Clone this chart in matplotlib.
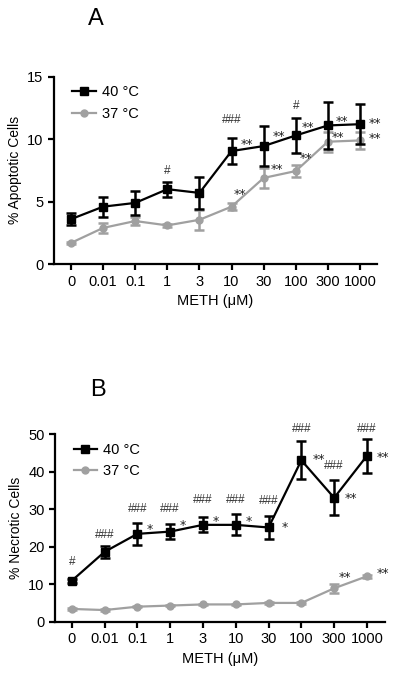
"""Recreate the METH apoptosis / necrosis two-panel figure."""
import matplotlib
matplotlib.use("Agg")
import matplotlib.pyplot as plt
from matplotlib.lines import Line2D

plt.rcParams["font.family"] = ["Liberation Sans", "DejaVu Sans"]

doses = ["0", "0.01", "0.1", "1", "3", "10", "30", "100", "300", "1000"]

# panel A: % apoptotic cells
apo_40 = [3.6, 4.6, 4.9, 6.0, 5.7, 9.05, 9.45, 10.3, 11.1, 11.2]
apo_40_err = [0.5, 0.8, 0.95, 0.6, 1.25, 1.05, 1.6, 1.4, 1.9, 1.6]
apo_37 = [1.7, 2.9, 3.45, 3.1, 3.55, 4.6, 6.9, 7.45, 9.8, 9.9]
apo_37_err = [0.1, 0.4, 0.35, 0.1, 0.8, 0.3, 0.8, 0.5, 0.8, 0.65]

# (x position, y value, text)
apo_marks = [
    (3, 7.45, "#"), (5, 11.5, "###"), (7, 12.65, "#"),
    (5.47, 9.6, "**"), (6.46, 10.2, "**"), (7.39, 10.95, "**"),
    (8.43, 11.45, "**"), (9.47, 11.25, "**"),
    (5.26, 5.6, "**"), (6.41, 7.6, "**"), (7.32, 8.45, "**"),
    (8.3, 10.15, "**"), (9.47, 10.05, "**"),
]

# panel B: % necrotic cells
nec_40 = [10.9, 18.6, 23.4, 24.0, 25.8, 25.8, 25.1, 43.0, 33.0, 44.2]
nec_40_err = [0.5, 1.6, 3.0, 2.0, 2.0, 2.8, 3.0, 5.1, 4.7, 4.5]
nec_37 = [3.4, 3.1, 4.0, 4.3, 4.6, 4.6, 5.0, 5.0, 8.9, 12.1]
nec_37_err = [0.2, 0.2, 0.2, 0.2, 0.2, 0.2, 0.2, 0.2, 1.2, 0.4]

nec_marks = [
    (0, 15.8, "#"), (1, 23.2, "###"), (2, 30.1, "###"),
    (3, 30.1, "###"), (4, 32.3, "###"), (5, 32.3, "###"),
    (6, 32.1, "###"), (7, 51.4, "###"), (8, 41.6, "###"),
    (9, 51.4, "###"),
    (2.39, 24.6, "*"), (3.39, 25.7, "*"), (4.4, 26.7, "*"),
    (5.39, 26.7, "*"), (6.5, 25.0, "*"),
    (7.53, 43.3, "**"), (8.5, 32.7, "**"), (9.49, 43.8, "**"),
    (8.34, 11.8, "**"), (9.49, 12.9, "**"),
]

GRAY = "#a0a0a0"


def draw_panel(ax, v40, e40, v37, e37, marks, ylabel, ymax, ystep, letter, letter_y):
    x = list(range(len(doses)))
    ax.errorbar(x, v37, yerr=e37, color=GRAY, marker="o", markersize=5,
                linewidth=1.6, elinewidth=1.8, capsize=3.5, capthick=1.8, zorder=2)
    ax.errorbar(x, v40, yerr=e40, color="black", marker="s", markersize=6,
                linewidth=1.6, elinewidth=1.8, capsize=3.5, capthick=1.8, zorder=3)
    for xm, ym, txt in marks:
        if txt.startswith("#"):
            ax.text(xm, ym, txt, ha="center", va="center", fontsize=8.5,
                    color="#333333")
        else:
            ax.text(xm, ym, txt, ha="center", va="center", fontsize=9,
                    color="#222222", family="DejaVu Sans")

    ax.set_ylim(0, ymax)
    ax.set_yticks(range(0, ymax + 1, ystep))
    ax.set_xticks(x)
    ax.set_xticklabels(doses)
    ax.spines["top"].set_visible(False)
    ax.spines["right"].set_visible(False)
    for s in ("left", "bottom"):
        ax.spines[s].set_linewidth(1.6)
    ax.tick_params(direction="out", width=1.6, length=4, labelsize=10.5)
    ax.set_ylabel(ylabel, fontsize=10)
    ax.set_xlabel("METH (\u03bcM)", fontsize=10.5)

    handles = [
        Line2D([], [], color="black", marker="s", markersize=6, linewidth=1.6),
        Line2D([], [], color=GRAY, marker="o", markersize=5, linewidth=1.6),
    ]
    ax.legend(handles, ["40 \u00b0C", "37 \u00b0C"], loc="upper left",
              frameon=False, fontsize=10.5, handlelength=1.6, handletextpad=0.4,
              borderaxespad=0.2, bbox_to_anchor=(0.03, 1.0))
    ax.text(0.13, letter_y, letter, transform=ax.transAxes,
            fontsize=17, ha="center", va="center")


fig = plt.figure(figsize=(4.0, 6.79), dpi=100)
ax_a = fig.add_axes([0.135, 0.611, 0.8075, 0.276])
ax_b = fig.add_axes([0.1375, 0.0844, 0.825, 0.2764])

draw_panel(ax_a, apo_40, apo_40_err, apo_37, apo_37_err, apo_marks,
           "% Apoptotic Cells", 15, 5, "A", 1.31)
ax_a.set_xlim(-0.53, 9.53)
draw_panel(ax_b, nec_40, nec_40_err, nec_37, nec_37_err, nec_marks,
           "% Necrotic Cells", 50, 10, "B", 1.235)
ax_b.set_xlim(-0.51, 9.55)

fig.savefig("out.png", dpi=100)
